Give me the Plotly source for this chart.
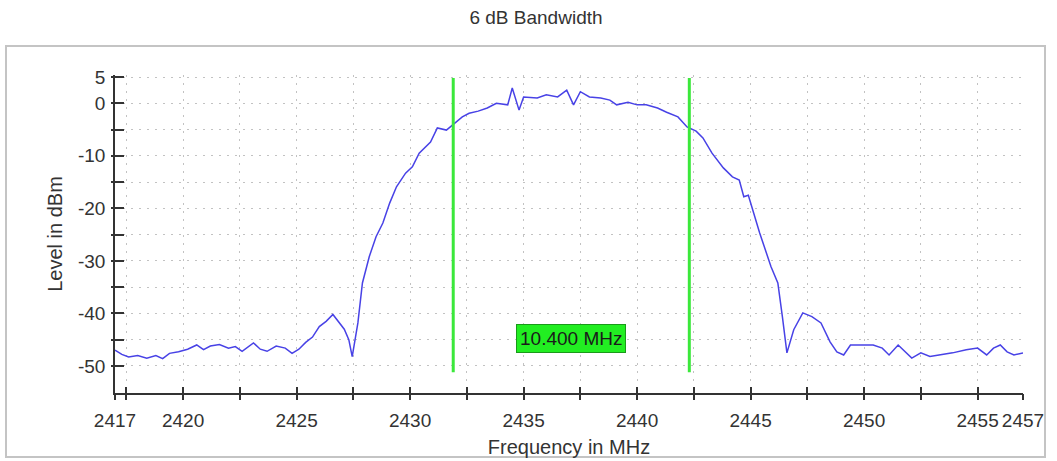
import plotly.graph_objects as go

# ---- data ----
freq_mhz = [2417.0, 2417.3, 2417.6, 2418.0, 2418.4, 2418.8, 2419.1, 2419.4, 2419.8, 2420.2,
            2420.6, 2420.9, 2421.2, 2421.6, 2422.0, 2422.3, 2422.6, 2423.1, 2423.4, 2423.7,
            2424.1, 2424.5, 2424.8, 2425.1, 2425.4, 2425.7, 2426.0, 2426.3, 2426.6, 2426.9,
            2427.1, 2427.3, 2427.45, 2427.7, 2427.9, 2428.2, 2428.5, 2428.8, 2429.1, 2429.4,
            2429.8, 2430.1, 2430.4, 2430.9, 2431.2, 2431.6, 2431.9, 2432.3, 2432.6, 2433.0,
            2433.4, 2433.8, 2434.3, 2434.5, 2434.8, 2435.0, 2435.6, 2436.0, 2436.5, 2436.9,
            2437.2, 2437.5, 2437.9, 2438.4, 2438.8, 2439.1, 2439.6, 2440.0, 2440.4, 2440.9,
            2441.3, 2441.8, 2442.2, 2442.6, 2442.9, 2443.3, 2443.8, 2444.2, 2444.5, 2444.7,
            2444.9, 2445.1, 2445.4, 2445.9, 2446.2, 2446.4, 2446.6, 2446.9, 2447.3, 2447.7,
            2448.1, 2448.5, 2448.8, 2449.1, 2449.4, 2450.0, 2450.4, 2450.8, 2451.1, 2451.5,
            2451.8, 2452.1, 2452.5, 2452.9, 2453.3, 2453.9, 2454.5, 2455.0, 2455.4, 2455.7,
            2456.0, 2456.3, 2456.6, 2457.0]
level_dbm = [-47.0, -47.8, -48.3, -48.0, -48.5, -48.0, -48.6, -47.6, -47.3, -46.8,
             -46.0, -46.9, -46.2, -45.9, -46.6, -46.3, -47.2, -45.6, -46.8, -47.2,
             -46.2, -46.6, -47.6, -46.8, -45.5, -44.5, -42.5, -41.5, -40.2, -41.8,
             -43.0, -45.0, -48.2, -41.8, -34.2, -29.2, -25.4, -22.8, -19.0, -15.9,
             -13.3, -12.1, -9.5, -7.4, -4.7, -5.1, -4.1, -2.6, -1.9, -1.5,
             -0.9, 0.0, -0.3, 2.9, -1.3, 1.2, 1.0, 1.6, 1.2, 2.5,
             -0.3, 2.2, 1.2, 1.0, 0.6, -0.3, 0.2, -0.3, -0.3, -0.9,
             -1.7, -2.6, -4.5, -5.3, -6.6, -9.5, -12.3, -14.0, -14.6, -17.8,
             -17.5, -20.3, -24.7, -31.1, -34.2, -40.6, -47.5, -43.1, -39.9, -40.6,
             -41.8, -45.4, -47.3, -47.9, -46.0, -46.0, -46.0, -46.6, -47.9, -46.0,
             -47.3, -48.5, -47.5, -48.2, -47.9, -47.5, -46.9, -46.6, -47.9, -46.6,
             -46.0, -47.3, -47.9, -47.5]

marker_freqs = [2431.9, 2442.3]
marker_levels = [4.8, -51.2]
bandwidth_label = "10.400 MHz"
label_pos = (2437.1, -44.7)

x_tickvals = [2417, 2417.5, 2420, 2422.5, 2425, 2427.5, 2430, 2432.5, 2435, 2437.5,
              2440, 2442.5, 2445, 2447.5, 2450, 2452.5, 2455, 2457]
x_ticktext = ["2417", "", "2420", "", "2425", "", "2430", "", "2435", "",
              "2440", "", "2445", "", "2450", "", "2455", "2457"]
y_tickvals = [5, 0, -5, -10, -15, -20, -25, -30, -35, -40, -45, -50]
y_ticktext = ["5", "0", "", "-10", "", "-20", "", "-30", "", "-40", "", "-50"]

x_range = [2417, 2457]
y_range = [-55.14, 5.38]

FONT = "Liberation Sans, Arial, sans-serif"

fig = go.Figure()
fig.add_trace(go.Scatter(x=freq_mhz, y=level_dbm, mode="lines",
                         line=dict(color="rgb(72,66,230)", width=1.5),
                         showlegend=False, hoverinfo="skip"))
for f in marker_freqs:
    fig.add_trace(go.Scatter(x=[f, f], y=marker_levels, mode="lines",
                             line=dict(color="#3be83b", width=3),
                             showlegend=False, xaxis="x2", yaxis="y2"))

fig.add_annotation(x=label_pos[0], y=label_pos[1], text=bandwidth_label, showarrow=False,
                   font=dict(family=FONT, size=19, color="#1a1a1a"),
                   bgcolor="#22ee22", bordercolor="#1a9a1a", borderwidth=1, borderpad=3)

axis_common = dict(showgrid=True, gridcolor="#c2c2c2", griddash="2px,6px", gridwidth=1,
                   zeroline=False, showline=True, linecolor="#333", linewidth=1.6,
                   tickcolor="#333", tickwidth=2, automargin=False,
                   tickfont=dict(family=FONT, size=19, color="#333"))

fig.update_layout(
    width=1057, height=461,
    margin=dict(l=115, r=34, t=75, b=68),
    paper_bgcolor="white", plot_bgcolor="white",
    title=dict(text="6 dB Bandwidth", x=536/1057, xref="container", xanchor="center",
               y=1-17/461, yref="container", yanchor="middle",
               font=dict(family=FONT, size=19, color="#333")),
    xaxis=dict(range=x_range, tickmode="array", tickvals=x_tickvals, ticktext=x_ticktext,
               ticks="inside", ticklen=6, ticklabelstandoff=9,
               title=dict(text="Frequency in MHz", standoff=10,
                          font=dict(family=FONT, size=20, color="#333")),
               **axis_common),
    yaxis=dict(range=y_range, tickmode="array", tickvals=y_tickvals, ticktext=y_ticktext,
               ticks="inside", ticklen=9, ticklabelstandoff=4,
               title=dict(text="Level in dBm", standoff=10,
                          font=dict(family=FONT, size=20, color="#333")),
               **axis_common),
    xaxis2=dict(overlaying="x", matches="x", range=x_range, tickmode="array",
                tickvals=x_tickvals, ticks="outside", ticklen=6, tickwidth=2, tickcolor="#333",
                showticklabels=False, showgrid=False, zeroline=False, showline=False),
    yaxis2=dict(overlaying="y", matches="y", range=y_range, tickmode="array",
                tickvals=y_tickvals, ticks="outside", ticklen=3, tickwidth=2, tickcolor="#333",
                showticklabels=False, showgrid=False, zeroline=False, showline=False),
    shapes=[dict(type="rect", xref="paper", yref="paper",
                 x0=(6-115)/908, x1=(1045-115)/908, y0=(393-457)/318, y1=(393-46)/318,
                 line=dict(color="#c4c4c4", width=2), fillcolor="rgba(0,0,0,0)", layer="below")],
)

fig.write_html("out.html")
